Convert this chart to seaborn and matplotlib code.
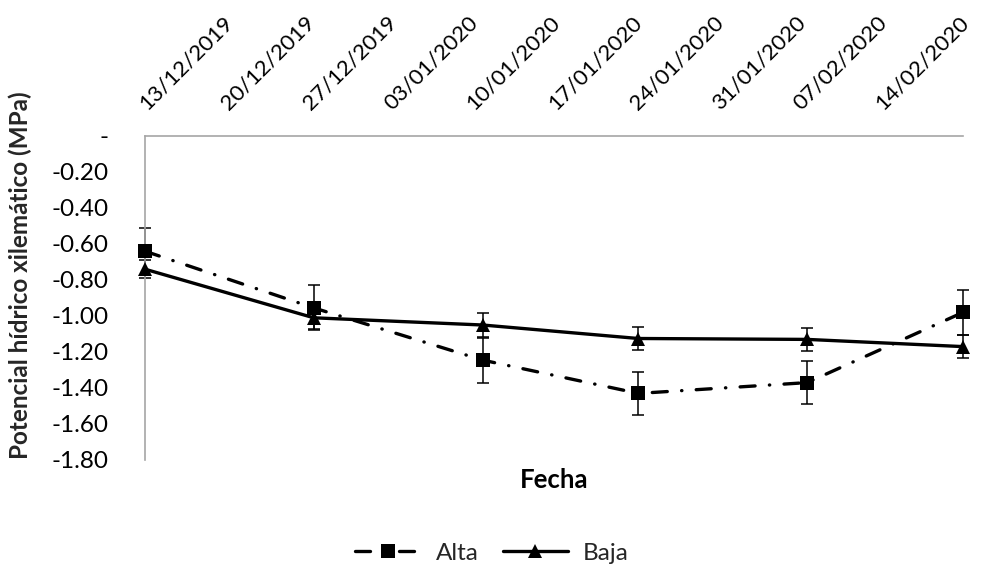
import matplotlib
matplotlib.use("Agg")
import matplotlib.pyplot as plt
import matplotlib.dates as mdates
from matplotlib.lines import Line2D
import seaborn as sns
import pandas as pd
import numpy as np

# ---- data ----
fechas = ["2019-12-13", "2019-12-26", "2020-01-08", "2020-01-20", "2020-02-02", "2020-02-14"]
alta = [-0.64, -0.955, -1.245, -1.43, -1.37, -0.98]
alta_err = [0.13, 0.125, 0.125, 0.12, 0.12, 0.125]
baja = [-0.74, -1.01, -1.05, -1.125, -1.13, -1.17]
baja_err = [0.05, 0.06, 0.065, 0.065, 0.063, 0.065]
x_labels = ["13/12/2019", "20/12/2019", "27/12/2019", "03/01/2020", "10/01/2020",
            "17/01/2020", "24/01/2020", "31/01/2020", "07/02/2020", "14/02/2020"]
y_ticks = [0, -0.2, -0.4, -0.6, -0.8, -1.0, -1.2, -1.4, -1.6, -1.8]

sns.set_theme(style="white")
plt.rcParams["font.family"] = ["Lato", "DejaVu Sans"]
FS = 17.5

x = pd.to_datetime(fechas)
df = pd.DataFrame({
    "Fecha": list(x) * 2,
    "valor": alta + baja,
    "serie": ["Alta"] * len(alta) + ["Baja"] * len(baja),
})

fig = plt.figure(figsize=(9.84, 5.68), dpi=100)
ax = fig.add_axes([145 / 984, 1 - 460 / 568, (963 - 145) / 984, (460 - 136) / 568])

alta_dash = (4.5, 4.3, 0.1, 4.3)
sns.lineplot(data=df, x="Fecha", y="valor", hue="serie", style="serie",
             palette={"Alta": "black", "Baja": "black"},
             markers={"Alta": "s", "Baja": "^"},
             dashes={"Alta": alta_dash, "Baja": ""},
             linewidth=2.4, markersize=10.5, markeredgewidth=0,
             legend=False, ax=ax, zorder=3)
for ln in ax.lines:
    ln.set_dash_capstyle("round")
    ln.set_clip_on(False)

ax.errorbar(x, alta, yerr=alta_err, fmt="none", ecolor="black",
            elinewidth=1.1, capsize=4.3, capthick=1.1, zorder=2, clip_on=False)
ax.errorbar(x, baja, yerr=baja_err, fmt="none", ecolor="black",
            elinewidth=1.1, capsize=4.3, capthick=1.1, zorder=2, clip_on=False)

# axes limits / ticks
x0 = mdates.date2num(pd.Timestamp("2019-12-13"))
x1 = mdates.date2num(pd.Timestamp("2020-02-14"))
ax.set_xlim(x0, x1)
ax.set_ylim(-1.8, 0)
step = (x1 - x0) / len(x_labels)
ax.set_xticks([x0 + (i + 0.5) * step for i in range(len(x_labels))])
ax.set_xticklabels(x_labels, rotation=45, ha="center", fontsize=16)
ax.xaxis.tick_top()
ax.set_yticks(y_ticks)
ax.set_yticklabels(["-" if v == 0 else f"{v:.2f}" for v in y_ticks], fontsize=FS)
ax.tick_params(axis="both", length=0, colors="black")
ax.tick_params(axis="x", pad=16)
ax.tick_params(axis="y", pad=26)

for s in ["right", "bottom"]:
    ax.spines[s].set_visible(False)
for s in ["top", "left"]:
    ax.spines[s].set_color("#a6a6a6")
    ax.spines[s].set_linewidth(1.2)
ax.grid(False)

ax.set_ylabel("")
ax.xaxis.set_label_position("bottom")
ax.set_xlabel("Fecha", fontsize=FS + 1, fontweight="bold", labelpad=6, color="black")
fig.text(20 / 984, 1 - 275 / 568, "Potencial hídrico xilemático (MPa)",
         rotation=90, ha="center", va="center", fontsize=FS, fontweight="bold")

handles = [
    Line2D([], [], color="black", lw=2.4, dashes=alta_dash, dash_capstyle="round",
           marker="s", markersize=10.5, markeredgewidth=0),
    Line2D([], [], color="black", lw=2.4, marker="^", markersize=10.5, markeredgewidth=0),
]
fig.legend(handles, ["Alta", "Baja"], loc="center", bbox_to_anchor=(0.5, 1 - 553 / 568),
           ncol=2, frameon=False, fontsize=FS, handlelength=2.7, columnspacing=1.0,
           handletextpad=0.6)

fig.savefig("out.png", dpi=100, facecolor="white")
